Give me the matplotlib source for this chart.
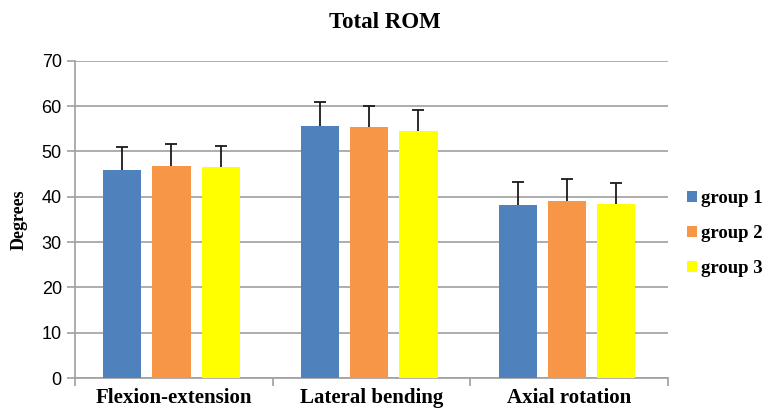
import numpy as np
import matplotlib
matplotlib.use('Agg')
import matplotlib.pyplot as plt

categories = ['Flexion-extension', 'Lateral bending', 'Axial rotation']
groups = ['group 1', 'group 2', 'group 3']
means = [[45.9, 55.6, 38.2],
         [46.7, 55.5, 39.1],
         [46.5, 54.5, 38.4]]
sds = [[5.0, 5.3, 5.1],
       [4.9, 4.5, 4.8],
       [4.6, 4.7, 4.7]]
colors = ['#4F81BD', '#F79646', '#FFFF00']

fig = plt.figure(figsize=(7.69, 4.11), dpi=100)
ax = fig.add_axes([0.0975, 0.080, 0.7715, 0.772])

x = np.arange(len(categories))
w = 0.193
step = 0.249
for i in range(len(groups)):
  pos = x + (i - 1) * step - 0.012
  ax.bar(pos, means[i], w, color=colors[i], label=groups[i], zorder=3)
  eb = ax.errorbar(pos, means[i], yerr=[np.zeros(3), sds[i]], fmt='none',
                   ecolor='#1a1a1a', elinewidth=1.3, capsize=4, capthick=1.3, zorder=4)
  eb[1][0].set_visible(False)  # no cap at the bar top

ax.set_xlim(-0.5, 2.5)
ax.set_ylim(0, 70)
ax.set_yticks(range(0, 71, 10))
ax.yaxis.grid(True, color='#A0A0A0', linewidth=1.2, zorder=0)
ax.set_xticks(x)
ax.set_xticklabels(categories, fontfamily='Liberation Serif', fontweight='bold', fontsize=15)
ax.tick_params(axis='x', length=0, pad=7)
ax.set_xticks([-0.5, 0.5, 1.5, 2.5], minor=True)
ax.tick_params(axis='x', which='minor', length=6, color='#A0A0A0', width=1.2)
ax.tick_params(axis='y', length=6, color='#A0A0A0', width=1.2, labelsize=13)
for lab in ax.get_yticklabels():
  lab.set_fontfamily('Liberation Sans')
for s in ['top', 'right']:
  ax.spines[s].set_visible(False)
for s in ['left', 'bottom']:
  ax.spines[s].set_color('#A0A0A0')
  ax.spines[s].set_linewidth(1.2)

ax.set_ylabel('Degrees', fontfamily='Liberation Serif', fontweight='bold', fontsize=13, labelpad=10)
fig.text(0.5, 0.945, 'Total ROM', ha='center', va='center',
         fontfamily='Liberation Serif', fontweight='bold', fontsize=16.5)

leg = ax.legend(loc='center left', bbox_to_anchor=(1.0, 0.455), frameon=False,
                prop={'family': 'Liberation Serif', 'weight': 'bold', 'size': 13.5},
                handlelength=0.55, handleheight=0.55, handletextpad=0.2,
                labelspacing=0.95, borderaxespad=0.6)

fig.savefig('out.png', dpi=100)
